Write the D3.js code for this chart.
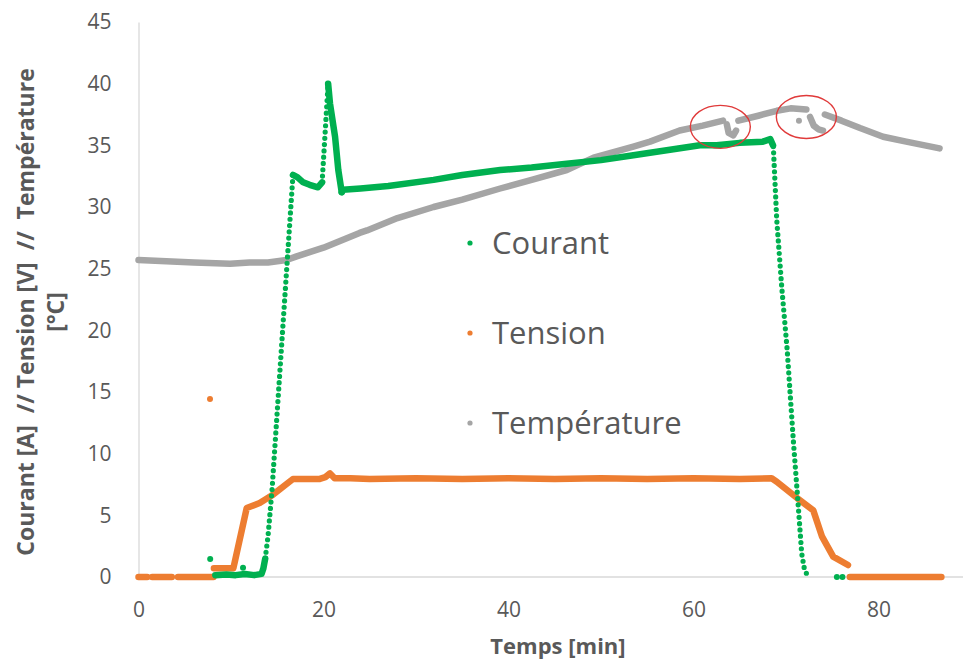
<!DOCTYPE html>
<html lang="fr">
<head>
<meta charset="UTF-8">
<title>Courant / Tension / Température</title>
<script src="https://cdnjs.cloudflare.com/ajax/libs/d3/7.8.5/d3.min.js"></script>
<style>
    body { margin: 0; background: #fff; font-family: "Open Sans", sans-serif; }
    svg { display: block; }
</style>
</head>
<body>
<svg id="chart" width="963" height="660"></svg>
<script>
// ---- data: [temps min, valeur] ----
// dense stretches are drawn as a thick trace, sparse stretches as dots
const courantDense = [
    [[8.3,0.15],[9.5,0.2],[10.5,0.15],[11.5,0.25],[12.5,0.15],[13.3,0.25],[13.5,0.7],[13.7,1.5]],
    [[16.7,32.6],[17.2,32.4],[17.8,32.0],[18.5,31.8],[19.4,31.6],[19.85,32.0]],
    [[20.5,40.0],[20.7,38.4],[21.25,35.7],[21.6,33.0],[21.97,31.2]],
    [[21.97,31.2],[22.1,31.4],[24,31.5],[27,31.7],[31.9,32.2],[35,32.6],[39.1,33.0],[42.5,33.2],
     [46.3,33.5],[50,33.8],[53.5,34.2],[55.3,34.4],[58,34.7],[60.7,35.0],[62.5,35.0],[65,35.2],
     [67.5,35.3],[68.3,35.5],[68.6,35.0]]
];
const courantSparse = [
    [[13.7,1.5],[14.0,3.3],[14.43,7.0],[15.2,15.7],[16.05,25.3],[16.7,32.6]],
    [[19.85,32.0],[20.5,40.0]],
    [[68.63,34.9],[69.0,28.95],[69.54,23.5],[70.13,18.4],[70.79,11.1],[71.33,5.7],[71.7,1.9],[72.0,0.6],[72.41,0]]
];
const courantSingles = [[7.75,1.46],[11.3,0.75],[75.5,0],[76.1,0]];

const tensionDense = [
    [[0,0],[0.94,0]],
    [[1.48,0],[3.6,0]],
    [[4.27,0],[8.1,0]],
    [[8.15,0.7],[10.25,0.7],[10.4,1.2],[11.7,5.6],[13.1,6.0],[14.4,6.6],[16.7,7.95],[19.6,7.95],
     [20.2,8.1],[20.7,8.4],[21.2,8.0],[22.9,8.0],[25,7.95],[30,8.0],[35,7.95],[40,8.0],[45,7.95],
     [50,8.0],[55,7.95],[60,8.0],[65,7.95],[68.45,8.0],[69,7.73],[71.2,6.4],[72.95,5.4],[73.9,3.27],
     [75.1,1.65],[76.7,0.97]],
    [[76.9,0],[86.8,0]]
];
const tensionSingles = [[7.73,14.43]];

const temperatureDense = [
    [[0,25.7],[3,25.6],[6,25.5],[9.9,25.4],[12,25.5],[14,25.5],[16,25.7],[17.1,26.0],[20,26.7],
     [23.9,27.9],[24.7,28.1],[28,29.1],[31.9,30.0],[35,30.6],[39.1,31.5],[42.5,32.2],[46.3,33.0],
     [49.2,34.0],[53.5,34.9],[55.3,35.3],[58.5,36.2],[61,36.6],[63.2,37.0]],
    [[63.6,36.7],[63.8,36.0],[64.3,35.8],[64.6,36.2]],
    [[64.85,37.0],[67,37.4],[69,37.8],[70.5,38.0],[72.2,37.9]],
    [[72.6,37.3],[73.0,36.6],[73.5,36.3],[74.0,36.2]],
    [[74.2,37.5],[76,37.0],[78,36.4],[80.5,35.7],[83,35.3],[85,35.0],[86.6,34.75]]
];
const temperatureSingles = [[71.4,37.0]];

// circled spots on the temperature curve
const markedSpots = [[62.9,36.5],[72.2,37.3]];

const xTicks = [0, 20, 40, 60, 80];
const yTicks = [0, 5, 10, 15, 20, 25, 30, 35, 40, 45];
const legendLabels = ["Courant", "Tension", "Température"];

const colors = { courant: "#00b050", tension: "#ed7d31", temperature: "#a5a5a5" };
const textColor = "#595959";

const svg = d3.select("#chart");
const x = d3.scaleLinear().domain([0, 90]).range([138.5, 971]);
const y = d3.scaleLinear().domain([0, 45]).range([577, 22]);
const line = d3.line().x(d => x(d[0])).y(d => y(d[1]));

// axes (Excel style: plain lines, no tick marks)
const yAxis = svg.append("g").attr("transform", `translate(${x(0)},0)`)
    .call(d3.axisLeft(y).tickValues(yTicks).tickSize(0).tickPadding(27));
const xAxis = svg.append("g").attr("transform", `translate(0,${y(0)})`)
    .call(d3.axisBottom(x).tickValues(xTicks).tickSize(0).tickPadding(25));
[yAxis, xAxis].forEach(a => {
    a.select(".domain").attr("stroke", "#d9d9d9").attr("stroke-width", 1.3);
    a.selectAll("text").attr("fill", textColor).attr("font-size", 21)
        .attr("font-family", "'Open Sans', sans-serif");
});
xAxis.select(".domain").attr("d", `M${x(0)},0H963`);

svg.append("text")
    .attr("x", 558).attr("y", 654)
    .attr("text-anchor", "middle")
    .attr("font-size", 22).attr("font-weight", "bold").attr("fill", textColor)
    .text("Temps [min]");

const yTitle = svg.append("text")
    .attr("transform", "translate(0,312) rotate(-90)")
    .attr("text-anchor", "middle")
    .style("white-space", "pre")
    .attr("font-size", 23).attr("font-weight", "bold").attr("fill", textColor);
yTitle.append("tspan").attr("x", 0).attr("y", 34)
    .text("Courant [A]  // Tension [V]  //  Température");
yTitle.append("tspan").attr("x", 0).attr("y", 64).text("[°C]");

function drawSeries(dense, sparse, singles, color) {
    const g = svg.append("g");
    g.selectAll("path.dense").data(dense).enter().append("path")
        .attr("class", "dense")
        .attr("d", line)
        .attr("fill", "none").attr("stroke", color)
        .attr("stroke-width", 6.5)
        .attr("stroke-linecap", "round").attr("stroke-linejoin", "round");
    g.selectAll("path.sparse").data(sparse).enter().append("path")
        .attr("class", "sparse")
        .attr("d", line)
        .attr("fill", "none").attr("stroke", color)
        .attr("stroke-width", 5.2)
        .attr("stroke-dasharray", "0 6.3")
        .attr("stroke-linecap", "round");
    g.selectAll("circle").data(singles).enter().append("circle")
        .attr("cx", d => x(d[0])).attr("cy", d => y(d[1]))
        .attr("r", 3).attr("fill", color);
}

drawSeries(temperatureDense, [], temperatureSingles, colors.temperature);
drawSeries(tensionDense, [], tensionSingles, colors.tension);
drawSeries(courantDense, courantSparse, courantSingles, colors.courant);

svg.selectAll("ellipse.mark").data(markedSpots).enter().append("ellipse")
    .attr("class", "mark")
    .attr("cx", d => x(d[0])).attr("cy", d => y(d[1]))
    .attr("rx", 30).attr("ry", 21.5)
    .attr("fill", "none").attr("stroke", "#e03a3a").attr("stroke-width", 1.4);

// legend
const legendColors = [colors.courant, colors.tension, colors.temperature];
const legend = svg.selectAll("g.legend").data(legendLabels).enter().append("g")
    .attr("class", "legend")
    .attr("transform", (d, i) => `translate(470,${243 + i * 90})`);
legend.append("circle").attr("r", 2.6).attr("fill", (d, i) => legendColors[i]);
legend.append("text")
    .attr("x", 22).attr("y", 11)
    .attr("font-size", 31).attr("fill", textColor)
    .text(d => d);
</script>
</body>
</html>
